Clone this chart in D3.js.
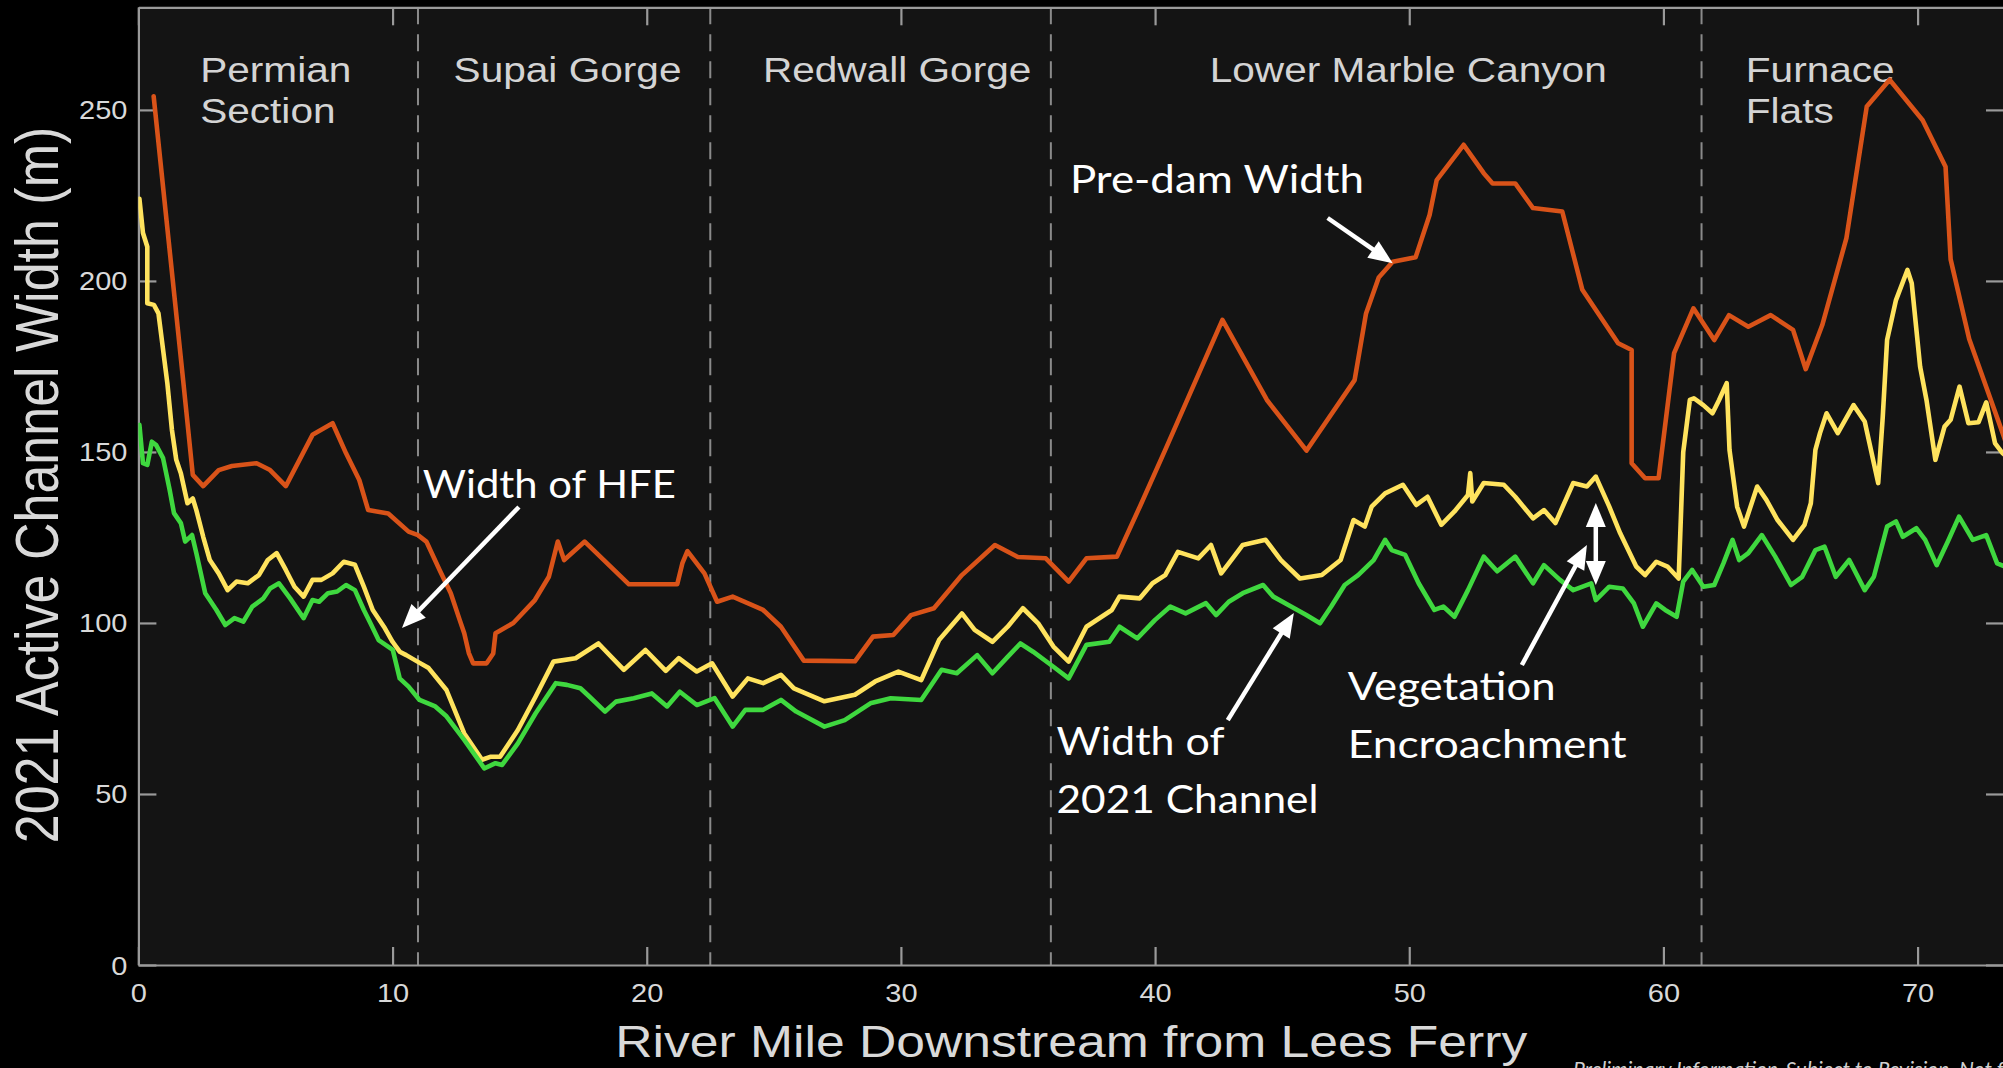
<!DOCTYPE html>
<html><head><meta charset="utf-8">
<script src="https://cdn.jsdelivr.net/npm/d3@7"></script>
<style>html,body{margin:0;padding:0;background:#000;overflow:hidden}</style>
</head><body>
<svg id="c" width="2003" height="1068"></svg>
<script>
// ---------- DATA (river mile, width in m) ----------
const preDamWidth = [[0.6,254],[1.76,171],[2.14,143.3],[2.55,140],[3.16,144.7],[3.68,145.9],[4.65,146.7],[5.18,144.7],[5.8,140],[6.85,155],[7.64,158.4],[8.17,149.6],[8.69,141.8],[9.04,133],[9.83,132],[10.63,126.7],[11.0,125.7],[11.33,123.8],[11.85,115.5],[12.29,108.7],[12.64,100.9],[12.82,97],[13.0,91.2],[13.17,88.2],[13.7,88.2],[13.96,91.1],[14.05,97],[14.75,100],[15.6,106.7],[16.15,113.5],[16.5,123.8],[16.75,118.4],[17.56,123.8],[19.3,111.3],[21.2,111.3],[21.4,117.4],[21.6,121],[22.27,114.5],[22.77,106.2],[23.38,107.7],[24.58,103.8],[25.28,98.9],[26.18,89],[28.19,88.8],[28.9,96],[29.7,96.5],[30.4,102.3],[31.3,104.3],[32.4,114],[33.7,122.8],[34.6,119.3],[35.7,118.9],[36.6,112.1],[37.3,118.9],[38.5,119.4],[39.4,134],[40.4,150.6],[42.65,188.6],[44.4,165.2],[45.96,150.4],[47.85,171],[48.3,190.5],[48.8,201],[49.35,205.6],[50.25,206.9],[50.8,219.3],[51.08,229.5],[52.14,239.8],[52.93,231.5],[53.28,228.5],[54.17,228.5],[54.87,221.3],[56.02,220.3],[56.81,197.4],[58.22,181.8],[58.75,179.8],[58.75,146.7],[59.28,142.3],[59.81,142.3],[60.42,178.9],[61.18,192],[62.0,182.7],[62.58,190],[63.34,186.6],[64.22,190],[65.1,185.7],[65.6,174.2],[66.25,187.1],[67.2,212.5],[68.0,251],[68.9,258.8],[70.2,247],[71.1,233.4],[71.3,206.3],[72.03,183],[73.35,155.4],[73.6,150]];

const hfeWidth = [[0.04,224],[0.18,214],[0.35,210],[0.35,193.5],[0.61,193],[0.79,190.5],[1.14,170],[1.32,156.4],[1.49,147.7],[1.67,143.8],[1.93,135],[2.14,136.4],[2.28,133],[2.55,125.2],[2.81,118.4],[3.16,114.5],[3.51,109.6],[3.86,112.1],[4.3,111.6],[4.74,114],[5.09,118.4],[5.44,120.4],[5.8,115.5],[6.14,110.6],[6.5,107.7],[6.85,112.6],[7.2,112.6],[7.64,114.5],[8.08,117.9],[8.52,117],[8.87,110.6],[9.22,103.8],[9.66,98.9],[10.0,94.5],[10.28,91.6],[10.54,90.6],[10.98,88.7],[11.42,86.8],[12.12,80.4],[12.82,67.7],[13.52,60],[13.87,60.9],[14.23,60.9],[14.93,68.7],[15.63,78.5],[16.33,88.7],[17.2,89.7],[18.1,94],[19.1,86.3],[19.95,92.1],[20.75,86],[21.26,89.7],[21.97,85.8],[22.57,88.2],[23.38,78.5],[23.98,83.8],[24.58,82.4],[25.28,84.8],[25.79,80.9],[26.99,77.1],[28.19,79],[28.99,82.9],[29.9,85.8],[30.8,83.3],[31.5,95],[32.4,102.8],[32.9,98],[33.6,94.5],[34.2,98.9],[34.8,104.3],[35.4,99.9],[36.0,93.1],[36.6,88.7],[37.3,98.9],[38.3,103.8],[38.6,107.7],[39.4,107.2],[39.9,111.6],[40.4,114],[40.9,120.8],[41.7,118.9],[42.2,122.8],[42.6,114.5],[43.05,118.9],[43.45,122.8],[44.35,124.3],[44.95,118.4],[45.7,113],[46.56,114],[47.3,118.4],[47.81,130.1],[48.25,128.2],[48.52,134],[49.05,137.9],[49.75,140.4],[50.28,134.5],[50.72,136.9],[51.26,128.7],[51.78,132.6],[52.31,137.4],[52.4,143.8],[52.48,135.5],[52.93,140.9],[53.72,140.4],[54.17,136.9],[54.87,130.6],[55.3,133],[55.75,129.2],[56.45,140.9],[56.99,139.9],[57.34,142.8],[57.87,134],[58.3,126.2],[58.93,116.5],[59.28,114],[59.72,117.9],[60.16,116.5],[60.6,113],[60.78,150],[61.04,165.2],[61.2,165.7],[61.57,163.7],[61.93,161.3],[62.19,165.2],[62.49,170.1],[62.6,150.6],[62.9,134],[63.17,128.2],[63.69,139.9],[64.05,136],[64.49,130.1],[65.1,124.3],[65.55,128.7],[65.8,135],[65.98,150.6],[66.16,155.5],[66.42,161.3],[66.86,155.5],[67.48,163.7],[67.92,158.9],[68.28,146.7],[68.45,140.9],[68.63,160.3],[68.8,182.7],[69.15,194.4],[69.6,203.2],[69.77,199.3],[70.1,174.9],[70.35,165.2],[70.7,147.7],[71.06,157.4],[71.3,159.4],[71.65,169.1],[72.0,158.4],[72.4,158.7],[72.7,164.5],[73.05,152.5],[73.35,149.6],[73.6,148]];

const channel2021Width = [[0.04,157.9],[0.18,146.7],[0.35,146.2],[0.53,153],[0.7,152],[0.97,148.2],[1.23,138.9],[1.4,132.1],[1.67,129.2],[1.84,123.8],[2.11,125.7],[2.28,120.4],[2.63,108.7],[3.07,103.8],[3.42,99.4],[3.78,101.4],[4.13,100.4],[4.48,104.8],[4.92,107.2],[5.18,110.1],[5.53,111.6],[5.97,107.2],[6.5,101.4],[6.85,106.7],[7.11,106.2],[7.46,108.7],[7.82,109.2],[8.17,111.1],[8.52,109.6],[8.87,103.8],[9.13,99.9],[9.45,95],[10.01,92.1],[10.28,83.8],[10.63,81.4],[11.06,77.5],[11.68,75.6],[12.12,72.7],[12.82,65.8],[13.61,57.5],[14.05,59],[14.31,58.5],[14.93,64.8],[15.63,73.6],[16.42,82.4],[16.86,81.9],[17.39,80.9],[17.74,78.5],[18.36,74.1],[18.79,77],[19.49,78],[20.2,79.4],[20.8,75.6],[21.3,79.9],[21.97,76],[22.67,78],[23.38,69.7],[23.88,74.6],[24.58,74.6],[25.28,77.5],[25.88,74.1],[26.99,69.7],[27.79,71.6],[28.8,76.5],[29.6,78],[30.8,77.5],[31.6,86.3],[32.2,85.3],[33.0,90.6],[33.6,85.3],[34.2,90.1],[34.7,94],[35.2,91.6],[36.0,87.2],[36.6,83.8],[37.3,93.6],[38.2,94.5],[38.6,98.9],[39.3,95.5],[40.0,100.9],[40.6,104.8],[41.2,102.8],[42.0,105.8],[42.4,102.3],[42.9,106.2],[43.45,108.7],[44.25,111.1],[44.65,107.7],[45.35,104.8],[45.95,102.3],[46.49,99.9],[46.93,104.8],[47.46,111.1],[47.99,114],[48.6,118.4],[49.05,124.3],[49.31,121.3],[49.84,119.9],[50.37,111.6],[50.99,103.8],[51.34,104.8],[51.78,101.8],[52.31,109.6],[52.93,119.4],[53.46,115.1],[54.17,119.4],[54.87,111.6],[55.3,116.9],[55.93,112.6],[56.45,109.6],[57.16,111.6],[57.34,106.7],[57.87,110.6],[58.4,110.1],[58.84,105.7],[59.19,98.9],[59.72,105.7],[60.07,103.8],[60.52,101.8],[60.78,112.1],[61.13,115.5],[61.57,110.6],[62.0,111.1],[62.36,117.4],[62.72,124.3],[62.98,118.4],[63.34,120.4],[63.87,125.7],[64.4,119.4],[65.02,111.1],[65.46,113.5],[65.98,121.3],[66.34,122.3],[66.78,113.5],[67.31,118.4],[67.92,109.6],[68.28,113.5],[68.8,128.2],[69.15,129.7],[69.42,125.2],[69.95,127.7],[70.3,124.3],[70.75,116.9],[71.19,123.8],[71.63,131.1],[72.17,124.3],[72.7,125.7],[73.13,117.4],[73.6,116]];

const sectionBounds = [11, 22.5, 35.9, 61.5];
const sectionNames = [["Permian","Section"],["Supai Gorge"],["Redwall Gorge"],["Lower Marble Canyon"],["Furnace","Flats"]];
const sectionLabelMile = [2.43, 12.4, 24.57, 42.15, 63.24];
const xTicks = [0,10,20,30,40,50,60,70];
const yTicks = [0,50,100,150,200,250];
const xTitle = "River Mile Downstream from Lees Ferry";
const yTitle = "2021 Active Channel Width (m)";
const footnote = "Preliminary Information-Subject to Revision. Not for Citation or Distribution.";

// ---------- LAYOUT ----------
const svg = d3.select("#c");
const M = {left:138.4, top:7.3, right:2004, bottom:965};
const x = d3.scaleLinear().domain([0,73.4]).range([M.left, M.right]);
const y = d3.scaleLinear().domain([0,280]).range([M.bottom, M.top]);
const SX = 1.16;
const axColor = "#9a9a9a", txtColor = "#d9d9d9";
const sans = "'Liberation Sans', Arial, sans-serif";
const calib = "Lato, 'Open Sans', sans-serif";

svg.append("rect").attr("width",2003).attr("height",1068).attr("fill","#000");
svg.append("rect").attr("x",M.left).attr("y",M.top).attr("width",M.right-M.left).attr("height",M.bottom-M.top).attr("fill","#141414");

const defs = svg.append("defs");
defs.append("clipPath").attr("id","clip").append("rect")
  .attr("x",M.left).attr("y",M.top).attr("width",M.right-M.left).attr("height",M.bottom-M.top);

// dashed section boundaries
svg.append("g").selectAll("line").data(sectionBounds).join("line")
  .attr("x1",d=>x(d)).attr("x2",d=>x(d)).attr("y1",y(280)).attr("y2",y(0))
  .attr("stroke","#8a8a8a").attr("stroke-width",2).attr("stroke-dasharray","17,10");

// section labels
const lab = svg.append("g");
sectionNames.forEach((lines,i)=>{
  lines.forEach((t,j)=>{
    lab.append("text").attr("transform",`translate(${x(sectionLabelMile[i])},${M.top+74.4+j*41.6}) scale(${SX},1)`)
      .attr("fill","#d4d4d4").style("font-family",sans).style("font-size","35px").text(t);
  });
});

// axes
function styleAxis(g){
  g.select(".domain").attr("stroke",axColor).attr("stroke-width",2.2);
  g.selectAll(".tick line").attr("stroke",axColor).attr("stroke-width",2.2);
}
const gB = svg.append("g").attr("transform",`translate(0,${M.bottom})`)
  .call(d3.axisBottom(x).tickValues(xTicks).tickSizeInner(-18).tickSizeOuter(0).tickPadding(0));
styleAxis(gB);
gB.selectAll("text").attr("y",37).attr("dy",0).attr("transform",`scale(${SX},1)`)
  .attr("fill",txtColor).style("font-family",sans).style("font-size","25px");

const gL = svg.append("g").attr("transform",`translate(${M.left},0)`)
  .call(d3.axisLeft(y).tickValues(yTicks).tickSizeInner(-18).tickSizeOuter(0).tickPadding(11));
styleAxis(gL);
gL.selectAll("text").attr("x",-11/SX).attr("dy","0.36em").attr("transform",`scale(${SX},1)`)
  .attr("fill",txtColor).style("font-family",sans).style("font-size","25px");

const gT = svg.append("g").attr("transform",`translate(0,${M.top})`)
  .call(d3.axisTop(x).tickValues(xTicks).tickSizeInner(-18).tickSizeOuter(0).tickFormat(""));
styleAxis(gT);
const gR = svg.append("g").attr("transform",`translate(${M.right},0)`)
  .call(d3.axisRight(y).tickValues(yTicks).tickSizeInner(-18).tickSizeOuter(0).tickFormat(""));
styleAxis(gR);

// axis titles
svg.append("text").attr("transform",`translate(${(M.left+M.right)/2},1057) scale(${SX},1)`)
  .attr("text-anchor","middle").attr("fill",txtColor).style("font-family",sans).style("font-size","44.5px").text(xTitle);
svg.append("text").attr("transform",`translate(58,485) scale(${SX},1) rotate(-90)`)
  .attr("text-anchor","middle").attr("fill",txtColor).style("font-family",sans).style("font-size","52px").text(yTitle);

// series
const line = d3.line().x(d=>x(d[0])).y(d=>y(d[1]));
const gS = svg.append("g").attr("clip-path","url(#clip)");
[[preDamWidth,"#d95319"],[hfeWidth,"#ffe35e"],[channel2021Width,"#3fd83f"]].forEach(([d,c])=>{
  gS.append("path").datum(d).attr("d",line).attr("fill","none").attr("stroke",c)
    .attr("stroke-width",4.6).attr("stroke-linejoin","round").attr("stroke-linecap","round");
});

// annotations
const ann = svg.append("g");
function arrowHead(px,py,ux,uy){
  const L=24, Wd=10;
  const bx=px-ux*L, by=py-uy*L;
  ann.append("path").attr("d",`M${px},${py}L${bx-uy*Wd},${by+ux*Wd}L${bx+uy*Wd},${by-ux*Wd}Z`).attr("fill","#fff");
}
function arrow(m1,v1,m2,v2,both){
  let x1=x(m1),y1=y(v1),x2=x(m2),y2=y(v2);
  const dx=x2-x1, dy=y2-y1, len=Math.hypot(dx,dy), ux=dx/len, uy=dy/len;
  const sx1 = both ? x1+ux*14 : x1, sy1 = both ? y1+uy*14 : y1;
  ann.append("line").attr("x1",sx1).attr("y1",sy1).attr("x2",x2-ux*14).attr("y2",y2-uy*14)
    .attr("stroke","#fff").attr("stroke-width",4.5);
  arrowHead(x2,y2,ux,uy);
  if(both) arrowHead(x1,y1,-ux,-uy);
}
function note(m,v,t,w){
  ann.append("text").attr("x",x(m)).attr("y",y(v)).attr("fill","#fff")
    .attr("textLength",w).attr("lengthAdjust","spacingAndGlyphs")
    .style("font-family",calib).style("font-size","39px").text(t);
}
note(36.65,225.7,"Pre-dam Width",294);
arrow(46.79,218.4,49.35,205.2,false);
note(11.19,136.5,"Width of HFE",253);
arrow(14.97,133.9,10.37,98.5,false);
note(36.12,61.4,"Width of",168);
note(36.12,44.4,"2021 Channel",262);
arrow(42.86,71.6,45.46,102.9,false);
note(47.58,77.5,"Vegetation",208);
note(47.58,60.5,"Encroachment",279);
arrow(54.43,87.7,56.99,122.8,false);
arrow(57.34,111.1,57.34,135.1,true);

// footnote (cut by bottom edge, as in the reference)
svg.append("text").attr("x",1573).attr("y",1077).attr("fill","#d0d0d0")
  .style("font-family",calib).style("font-style","italic").style("font-size","21px").text(footnote);
</script>
</body></html>
